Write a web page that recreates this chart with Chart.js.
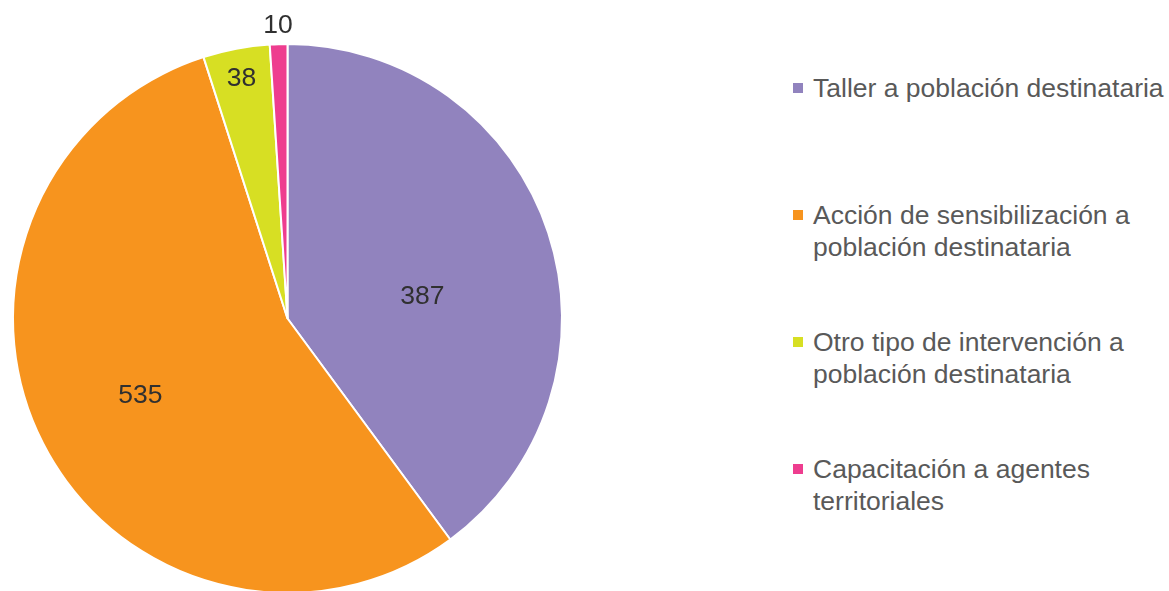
<!DOCTYPE html>
<html>
<head>
<meta charset="utf-8">
<script src="https://cdn.jsdelivr.net/npm/chart.js@4.4.0/dist/chart.umd.min.js"></script>
<style>
  html, body { margin:0; padding:0; background:#fff; overflow:hidden; width:1169px; height:591px; }
  #wrap { position:absolute; left:0; top:0; width:700px; height:620px; }
  #legend { position:absolute; left:0; top:0; }
  .item { position:absolute; left:813px; width:362px; font-family:"Liberation Sans", Arial, sans-serif; font-size:26.5px; line-height:32px; color:#595959; }
  .box { position:absolute; left:-20px; top:11px; width:10px; height:10px; }
</style>
</head>
<body>
<div id="wrap"><canvas id="c"></canvas></div>
<div id="legend"></div>
<script>
const categories = [
  "Taller a población destinataria",
  "Acción de sensibilización a población destinataria",
  "Otro tipo de intervención a población destinataria",
  "Capacitación a agentes territoriales"
];
const values = [387, 535, 38, 10];
const colors = ["#9183BE", "#F7941E", "#D7DF23", "#EE3D8F"];

// label placement (fraction of radius, angle offset in degrees from slice mid)
const labelRadius = [0.499, 0.602, 0.896, 1.075];
const labelAngleOffset = [8.3, 0, 0, 0];

const valueLabels = {
  id: 'valueLabels',
  afterDatasetsDraw(chart) {
    const ctx = chart.ctx;
    const meta = chart.getDatasetMeta(0);
    ctx.save();
    ctx.font = '26.5px "Liberation Sans", Arial, sans-serif';
    ctx.fillStyle = '#303030';
    ctx.textAlign = 'center';
    ctx.textBaseline = 'middle';
    meta.data.forEach((arc, i) => {
      const p = arc.getProps(['x','y','startAngle','endAngle','outerRadius'], true);
      const mid = (p.startAngle + p.endAngle) / 2 + labelAngleOffset[i] * Math.PI / 180;
      const r = p.outerRadius * labelRadius[i];
      ctx.fillText(String(values[i]), p.x + Math.cos(mid) * r, p.y + Math.sin(mid) * r + 2);
    });
    ctx.restore();
  }
};

const chart = new Chart(document.getElementById('c'), {
  type: 'pie',
  data: {
    labels: categories,
    datasets: [{
      data: values,
      backgroundColor: colors,
      borderColor: '#ffffff',
      borderWidth: 2
    }]
  },
  options: {
    responsive: true,
    maintainAspectRatio: false,
    animation: false,
    layout: { padding: { left: 12, top: 43, right: 137, bottom: 26 } },
    plugins: { legend: { display: false }, tooltip: { enabled: false } }
  },
  plugins: [valueLabels]
});

// HTML legend built from the chart's data
const legend = document.getElementById('legend');
const legendTops = [72, 199, 326, 453];
categories.forEach((lab, i) => {
  const d = document.createElement('div');
  d.className = 'item';
  d.style.top = legendTops[i] + 'px';
  const b = document.createElement('span');
  b.className = 'box';
  b.style.background = colors[i];
  d.appendChild(b);
  d.appendChild(document.createTextNode(lab));
  legend.appendChild(d);
});
</script>
</body>
</html>
